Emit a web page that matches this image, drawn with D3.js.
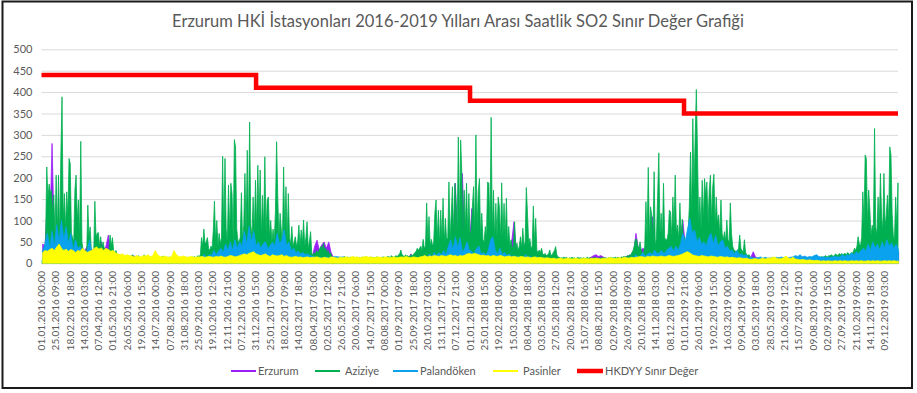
<!DOCTYPE html>
<html>
<head>
<meta charset="utf-8">
<script src="https://cdn.jsdelivr.net/npm/d3@7"></script>
<style>
  html, body { margin: 0; padding: 0; background: #fff; }
  svg { display: block; }
  text { font-family: Lato, "Open Sans", "DejaVu Sans", sans-serif; }
</style>
</head>
<body>
<svg id="chart" width="917" height="393"></svg>
<script>
// ---- data ----------------------------------------------------------------
const chartTitle = "Erzurum HKİ İstasyonları 2016-2019 Yılları Arası Saatlik SO2 Sınır Değer Grafiği";
const seriesNames = ["Erzurum", "Aziziye", "Palandöken", "Pasinler", "HKDYY Sınır Değer"];
const yTicks = [0, 50, 100, 150, 200, 250, 300, 350, 400, 450, 500];

const xTickLabels = [
  "01.01.2016 00:00","25.01.2016 09:00","18.02.2016 18:00","14.03.2016 03:00","07.04.2016 12:00",
  "01.05.2016 21:00","26.05.2016 06:00","19.06.2016 15:00","14.07.2016 00:00","07.08.2016 09:00",
  "31.08.2016 18:00","25.09.2016 03:00","19.10.2016 12:00","12.11.2016 21:00","07.12.2016 06:00",
  "31.12.2016 15:00","25.01.2017 00:00","18.02.2017 09:00","14.03.2017 18:00","08.04.2017 03:00",
  "02.05.2017 12:00","26.05.2017 21:00","20.06.2017 06:00","14.07.2017 15:00","08.08.2017 00:00",
  "01.09.2017 09:00","25.09.2017 18:00","20.10.2017 03:00","13.11.2017 12:00","07.12.2017 21:00",
  "01.01.2018 06:00","25.01.2018 15:00","19.02.2018 00:00","15.03.2018 09:00","08.04.2018 18:00",
  "03.05.2018 03:00","27.05.2018 12:00","20.06.2018 21:00","15.07.2018 06:00","08.08.2018 15:00",
  "02.09.2018 00:00","26.09.2018 09:00","20.10.2018 18:00","14.11.2018 03:00","08.12.2018 12:00",
  "01.01.2019 21:00","26.01.2019 06:00","19.02.2019 15:00","16.03.2019 00:00","09.04.2019 09:00",
  "03.05.2019 18:00","28.05.2019 03:00","21.06.2019 12:00","15.07.2019 21:00","09.08.2019 06:00",
  "02.09.2019 15:00","27.09.2019 00:00","21.10.2019 09:00","14.11.2019 18:00","09.12.2019 03:00"
];

// Hourly SO2 peaks (µg/m³) summarised per period; first period starts 01.01.2016
const periodStart = "01.01.2016 00:00";
const periodEnd = "01.01.2020 00:00";
const aziziyeStepDays = 2;
const otherStepDays = 4;

const aziziye = [
  8,10,25,60,225,150,185,165,170,120,160,60,206,70,206,60,249,389,100,163,
  80,167,110,245,233,70,60,50,171,206,100,148,60,285,50,30,25,30,20,136,
  60,85,30,25,20,145,60,70,72,40,62,30,50,35,30,25,30,30,66,40,
  60,30,22,30,20,18,
  15,18,14,20,16,12,15,18,14,12,15,20,16,14,
  12,14,18,15,12,14,16,20,15,13,12,14,16,12,14,15,
  20,14,12,15,13,12,14,17,15,12,14,12,13,15,12,14,
  12,13,12,11,12,14,12,13,12,15,12,14,13,12,
  14,12,15,13,16,12,14,18,15,20,
  60,40,80,45,50,60,35,30,40,35,75,145,50,100,40,70,45,60,250,60,
  245,80,50,183,70,187,163,50,289,272,80,54,50,60,165,50,90,210,70,264,
  70,330,90,60,155,70,194,80,229,100,218,60,159,80,249,70,148,155,60,100,
  50,80,50,120,284,155,60,117,80,50,225,70,179,50,163,60,45,86,40,50,
  62,40,50,89,40,78,45,101,40,60,97,35,50,74,23,20,25,20,30,25,
  30,35,40,30,47,30,35,25,30,20,25,15,15,12,10,
  12,14,12,15,13,12,14,16,12,13,15,12,14,12,13,15,12,14,13,12,
  14,12,15,13,12,16,14,12,13,15,12,14,13,12,15,14,12,13,12,14,
  15,13,12,14,16,15,13,18,15,14,16,18,15,20,22,
  31,20,18,15,20,16,18,15,17,20,18,22,25,28,
  35,30,35,40,30,56,35,40,141,50,109,40,56,40,50,117,148,55,124,45,
  124,55,152,45,105,55,60,190,55,117,179,60,187,148,70,295,90,288,210,70,
  171,80,187,70,163,60,80,132,179,70,300,80,167,198,60,117,55,50,86,60,
  190,187,80,341,70,171,55,140,60,155,132,55,188,60,140,55,152,45,86,40,
  55,35,40,97,35,47,30,40,62,35,82,40,50,177,117,45,58,35,40,134,
  45,105,30,25,31,25,35,22,20,23,18,20,22,31,18,20,25,30,39,20,15,
  14,12,13,12,15,12,14,12,11,13,12,14,12,13,11,12,14,12,13,12,
  12,13,11,12,14,12,13,12,11,12,14,13,12,11,12,13,12,14,12,13,
  12,11,13,12,14,12,13,12,15,12,14,13,12,15,14,16,15,14,18,16,20,18,25,30,40,
  55,57,40,35,50,30,25,25,40,144,55,224,60,132,110,55,214,39,60,159,
  258,70,117,55,187,60,55,55,70,124,120,60,155,80,206,70,89,55,141,60,
  103,55,62,45,50,70,132,260,110,338,171,295,406,257,90,155,80,194,100,198,
  159,190,90,171,206,100,179,208,90,155,93,113,65,148,70,55,74,50,101,55,
  50,141,70,40,31,30,25,30,35,66,35,30,25,55,25,20,18,20,15,
  12,14,12,10,12,11,13,12,10,12,11,12,14,12,10,11,12,13,11,12,
  10,12,11,13,12,10,11,12,14,11,10,12,11,13,12,11,10,12,11,12,
  12,11,13,12,10,12,14,12,11,13,12,14,12,13,15,12,14,13,15,14,
  16,14,15,18,16,15,18,17,20,18,16,20,22,18,20,23,20,
  23,20,22,23,20,25,23,20,25,23,28,35,30,40,62,45,40,60,167,90,
  253,245,90,171,124,65,89,75,315,86,65,155,85,210,110,75,210,85,113,159,
  95,272,253,117,65,55,155,85,188
];

const palandoken = [
  30,45,70,35,75,40,90,50,100,55,85,45,70,30,55,35,40,22,20,30,55,22,25,18,25,18,18,15,20,14,14,
  14,12,13,12,14,12,13,11,12,12,14,12,13,12,12,
  12,13,12,11,10,11,10,12,10,11,
  12,13,12,12,13,12,11,12,13,12,12,15,
  15,20,12,20,18,30,20,28,35,25,45,30,50,30,55,35,50,40,75,45,86,50,75,40,50,35,45,50,35,40,
  50,40,70,45,55,78,40,50,30,35,25,28,22,25,20,22,18,16,15,
  12,14,12,13,15,12,14,15,16,15,14,15,14,12,
  10,11,10,12,10,11,10,10,12,11,10,11,10,12,10,11,10,10,11,12,10,11,10,12,11,10,11,12,11,
  12,14,12,18,15,22,15,25,18,25,20,
  30,20,40,55,30,62,35,60,25,35,50,30,28,20,35,40,22,25,20,30,55,62,30,22,35,20,25,18,22,15,
  18,14,16,12,15,20,14,16,12,14,15,12,13,12,12,
  10,9,10,11,9,10,10,9,11,10,9,10,10,11,9,10,9,10,11,10,9,10,10,9,11,10,10,9,10,11,10,12,11,12,
  12,14,15,20,14,18,25,16,22,25,20,31,22,25,30,22,30,35,39,28,40,30,45,70,50,
  80,105,70,78,50,60,45,50,40,60,70,45,65,40,50,55,35,40,28,31,22,30,20,22,18,20,
  12,14,12,13,12,15,12,13,12,12,13,12,14,12,15,12,13,12,14,15,
  18,16,20,15,17,14,16,15,18,20,16,14,15,13,14,14,15,16,15,
  15,20,16,20,18,24,20,27,22,30,35,28,45,30,50,35,45,30,50,35,55,40,48,35,45,30
];

const pasinler = [
  25,30,28,32,35,30,38,45,35,30,33,
  28,32,30,25,30,28,35,30,25,28,30,35,38,33,36,
  30,35,32,28,30,25,22,20,22,18,
  20,18,17,15,18,16,15,18,17,20,
  15,18,30,20,16,15,17,15,14,16,
  30,20,16,15,17,15,14,16,15,14,15,
  15,16,14,15,16,15,14,16,15,17,15,14,16,18,17,15,16,18,20,22,20,23,25,27,
  22,20,18,20,22,18,16,20,18,17,18,20,16,18,15,14,15,16,14,15,13,14,15,13,14,
  14,15,13,12,14,13,12,15,14,13,12,14,13,15,14,13,16,14,15,13,14,15,16,14,15,
  13,14,15,14,13,15,14,13,14,15,13,14,15,14,16,14,13,15,14,13,
  15,16,18,15,17,16,18,17,16,18,17,16,18,20,17,18,16,18,17,19,
  22,23,21,23,22,20,18,19,17,18,16,18,17,16,18,17,15,16,17,15,
  16,15,14,16,15,14,15,13,14,15,13,14,13,12,13,
  12,11,12,10,11,12,10,11,12,11,10,12,11,10,11,12,11,10,12,11,
  12,11,10,12,11,12,13,12,11,12,13,12,14,13,12,14,13,
  14,15,16,15,14,16,15,17,16,15,16,17,15,16,18,17,16,17,18,20,
  22,25,27,24,20,18,17,16,18,17,16,15,17,16,15,14,16,15,14,15,13,14,13,12,13,12,11,12,
  10,9,10,11,9,10,12,10,11,12,13,15,12,10,11,13,17,12,11,14,10,9,8,9,8,7,8,7,6,7,
  6,5,6,5,6,5,5,6,5,6,5,6,5,5,6,5,6,5,6,5,5,6,5,6,5,6,5,5,6,5,6,5,6,5,5
];

const erzurum = [
  45,40,145,60,280,50,60,55,50,60,45,50,40,45,50,40,45,35,30,40,
  35,30,35,30,35,50,30,40,66,30,25,20,18,20,18,17,18,16,17,17,15,
  12,11,10,12,11,10,11,10,12,11,10,11,10,12,11,10,11,10,12,11,10,11,10,12,11,12,
  12,14,15,18,20,22,25,20,25,30,28,30,35,30,35,32,30,35,40,35,
  38,35,40,35,30,35,30,32,35,30,28,30,32,30,28,30,25,28,25,22,
  25,22,20,22,20,18,20,18,16,
  40,54,30,43,50,35,50,25,
  14,12,13,12,11,12,10,11,10,12,11,10,11,10,12,11,10,11,10,12,
  11,10,11,10,12,11,10,11,10,12,11,10,11,22,12,11,
  12,14,15,18,20,22,25,22,25,28,30,28,30,32,35,38,187,40,38,210,
  35,38,40,128,40,35,38,35,30,32,60,35,30,32,43,30,28,30,25,28,
  50,97,25,22,25,20,18,20,18,16,15,14,15,13,12,12,
  10,11,10,9,10,11,10,9,10,11,10,9,10,11,10,9,10,11,15,18,
  20,16,18,15,12,11,10,9,10,11,10,12,14,16,18,20,22,
  70,35,30,35,30,35,40,109,35,40,30,35,30,47,35,30,40,35,38,60,
  100,45,40,45,50,45,40,45,40,35,155,40,35,38,40,35,30,32,28,30,
  25,28,25,22,20,22,18,15,
  12,14,27,15,12,11,10,12,11,10,11,12,10,11,12,10,11,12,10,11,
  10,12,11,15,11,10,12,11,10,11,12,10,11,12,10,14,11,12,10,11,
  12,14,13,15,14,16,15,18,17,20,18,20,22,20,22,25,22,25,28,25,
  28,30,28,30,25
];

// HKDYY hourly SO2 limit per year
const limitYears = ["01.01.2016 00:00", "01.01.2017 00:00", "01.01.2018 00:00", "01.01.2019 00:00"];
const limitValues = [440, 410, 380, 350];

// ---- layout ----------------------------------------------------------------
const svg = d3.select("#chart");
const W = 917, H = 393;
const plot = { left: 41.5, right: 898, top: 49.3, bottom: 263.3 };
const colors = {
  Erzurum: "#9a1ff5",
  Aziziye: "#00b050",
  "Palandöken": "#0aa2ee",
  Pasinler: "#ffff00",
  "HKDYY Sınır Değer": "#ff0000"
};
const textColor = "#595959";
const parse = d3.utcParse("%d.%m.%Y %H:%M");
const t0 = parse(periodStart), t1 = parse(periodEnd);
const DAY = 864e5;

const x = d3.scaleUtc().domain([t0, t1]).range([plot.left, plot.right]);
const y = d3.scaleLinear().domain([0, 500]).range([plot.bottom, plot.top]);

svg.append("rect").attr("width", W).attr("height", H).attr("fill", "#fff");

// outer frame
svg.append("rect")
  .attr("x", 2.5).attr("y", 1.5).attr("width", 909.5).attr("height", 386.5)
  .attr("fill", "none").attr("stroke", "#1a1a1a").attr("stroke-width", 2);

// title
svg.append("text")
  .attr("x", 458).attr("y", 27)
  .attr("text-anchor", "middle")
  .attr("font-size", 16.5)
  .attr("fill", textColor)
  .text(chartTitle);

// horizontal grid + y labels
const yAxis = d3.axisLeft(y).tickValues(yTicks).tickSize(-(plot.right - plot.left)).tickFormat(d3.format("d"));
const gy = svg.append("g").attr("transform", `translate(${plot.left},0)`).call(yAxis);
gy.select(".domain").remove();
gy.selectAll(".tick line").attr("stroke", "#d9d9d9").attr("stroke-width", 1);
gy.selectAll(".tick text")
  .attr("x", -9).attr("fill", textColor)
  .attr("font-size", 11).attr("font-family", "Lato, sans-serif");

// series as filled hourly-peak profiles
function drawSeries(values, stepDays, color) {
  const pts = values.map((v, i) => [new Date(+t0 + (i * stepDays + stepDays / 2) * DAY), v]);
  const area = d3.area()
    .x(d => x(d[0]))
    .y0(y(0))
    .y1(d => y(d[1]));
  svg.append("path")
    .datum(pts)
    .attr("d", area)
    .attr("fill", color)
    .attr("stroke", color)
    .attr("stroke-width", 0.8)
    .attr("stroke-linejoin", "miter");
}
drawSeries(erzurum, otherStepDays, colors.Erzurum);
drawSeries(aziziye, aziziyeStepDays, colors.Aziziye);
drawSeries(palandoken, otherStepDays, colors["Palandöken"]);
drawSeries(pasinler, otherStepDays, colors.Pasinler);

// limit step line
const limitPts = limitYears.map((d, i) => [parse(d), limitValues[i]]);
limitPts.push([t1, limitValues[limitValues.length - 1]]);
svg.append("path")
  .datum(limitPts)
  .attr("d", d3.line().x(d => x(d[0])).y(d => y(d[1])).curve(d3.curveStepAfter))
  .attr("fill", "none")
  .attr("stroke", colors["HKDYY Sınır Değer"])
  .attr("stroke-width", 4.5);

// x labels, rotated
const gx = svg.append("g");
xTickLabels.forEach(lbl => {
  gx.append("text")
    .attr("transform", `translate(${x(parse(lbl))},271) rotate(-90)`)
    .attr("text-anchor", "end")
    .attr("dy", "0.35em")
    .attr("font-size", 10)
    .attr("fill", textColor)
    .text(lbl);
});

// legend
const legendItems = [
  { name: seriesNames[0], x0: 231, x1: 256, w: 2 },
  { name: seriesNames[1], x0: 315, x1: 340, w: 2 },
  { name: seriesNames[2], x0: 393, x1: 418, w: 2 },
  { name: seriesNames[3], x0: 493, x1: 518, w: 2 },
  { name: seriesNames[4], x0: 577, x1: 603, w: 4.5 }
];
const legendY = 371;
const textGap = [2, 5, 2, 5, 2];
legendItems.forEach((it, i) => {
  svg.append("line")
    .attr("x1", it.x0).attr("x2", it.x1)
    .attr("y1", legendY).attr("y2", legendY)
    .attr("stroke", colors[it.name]).attr("stroke-width", it.w);
  svg.append("text")
    .attr("x", it.x1 + textGap[i]).attr("y", legendY)
    .attr("dy", "0.35em")
    .attr("font-size", 11)
    .attr("fill", textColor)
    .text(it.name);
});
</script>
</body>
</html>
